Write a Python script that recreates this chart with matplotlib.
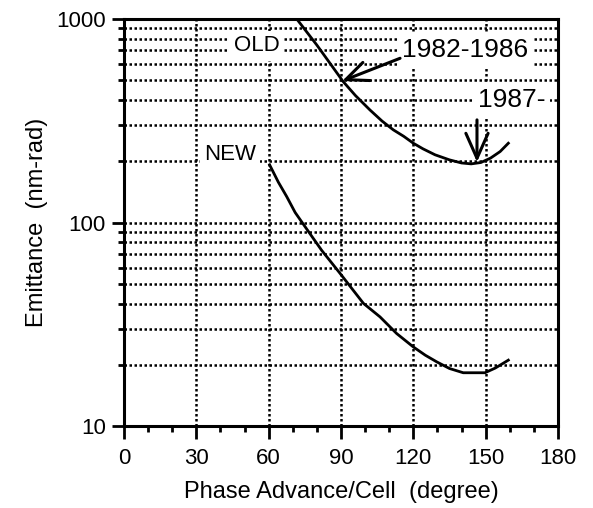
import numpy as np
import matplotlib.pyplot as plt
from matplotlib.ticker import FixedLocator, NullFormatter, LogLocator

plt.rcParams["font.family"] = ["Liberation Sans", "DejaVu Sans"]

# ===============================
# Data
# ===============================
old_phase = [71.6, 80, 90.9, 96, 102, 107, 111.7, 116, 120, 124, 129, 135, 140, 144, 148, 152, 156, 159.4]
old_emit = [1000, 743, 492, 420, 357, 315, 285, 265, 245, 230, 215, 203, 196, 194, 197, 207, 223, 245]

new_phase = [60.4, 64, 67.5, 71, 75.1, 82, 89.6, 99.3, 106.2, 113.1, 120, 125, 129.7, 135, 140.7, 149.7, 154, 159.4]
new_emit = [192, 158, 134, 112, 95.4, 73, 56.3, 40.1, 34.4, 28.5, 24.5, 22.3, 20.7, 19.2, 18.3, 18.3, 19.3, 21.1]

x_ticks = [0, 30, 60, 90, 120, 150, 180]
y_ticks = [10, 100, 1000]

fig = plt.figure(figsize=(5.93, 5.08), dpi=100)
ax = fig.add_axes([0.209, 0.161, 0.732, 0.802])

ax.set_yscale("log")
ax.set_xlim(0, 180)
ax.set_ylim(10, 1000)

# grid: dotted lines at every decade sub-tick and every 30 degrees
ax.xaxis.set_major_locator(FixedLocator(x_ticks))
ax.xaxis.set_minor_locator(FixedLocator(np.arange(0, 181, 10)))
ax.yaxis.set_major_locator(FixedLocator(y_ticks))
ax.yaxis.set_minor_locator(LogLocator(base=10, subs=np.arange(2, 10)))
ax.yaxis.set_minor_formatter(NullFormatter())
ax.set_yticklabels(["10", "100", "1000"])
ax.set_xticklabels([str(v) for v in x_ticks])

ax.grid(True, which="major", axis="x", color="black", linestyle=(0, (1, 1)), linewidth=1.8)
ax.grid(True, which="both", axis="y", color="black", linestyle=(0, (1, 1)), linewidth=1.8)
ax.set_axisbelow(True)

ax.tick_params(axis="both", which="major", direction="out", length=9, width=2,
               labelsize=16, colors="black")
ax.tick_params(axis="both", which="minor", direction="out", length=4, width=2)
ax.tick_params(axis="y", which="major", pad=4)
ax.tick_params(axis="x", which="major", pad=7)
for s in ax.spines.values():
    s.set_linewidth(2.2)

ax.plot(old_phase, old_emit, color="black", linewidth=2, zorder=3)
ax.plot(new_phase, new_emit, color="black", linewidth=2, zorder=3)

box = dict(facecolor="white", edgecolor="none", pad=3)
ax.text(55, 737, "OLD", fontsize=16, ha="center", va="center", bbox=box, zorder=4)
ax.text(44, 215, "NEW", fontsize=16, ha="center", va="center", bbox=box, zorder=4)
ax.text(141.5, 700, "1982-1986", fontsize=19, ha="center", va="center", bbox=box, zorder=4)
ax.text(161, 398, "1987-", fontsize=19, ha="center", va="center", bbox=box, zorder=4)

# hand-drawn style arrows
ax.annotate("", xy=(90.5, 495), xytext=(114.5, 640),
            arrowprops=dict(arrowstyle="->,head_length=0.8,head_width=0.35", lw=2.2,
                            color="black", mutation_scale=20, shrinkA=0, shrinkB=0),
            zorder=5)
ax.annotate("", xy=(146.4, 198), xytext=(146.4, 319),
            arrowprops=dict(arrowstyle="->,head_length=0.9,head_width=0.4", lw=2.2,
                            color="black", mutation_scale=20, shrinkA=0, shrinkB=0),
            zorder=5)

ax.set_xlabel("Phase Advance/Cell  (degree)", fontsize=17, labelpad=8)
ax.set_ylabel("Emittance  (nm-rad)", fontsize=17, labelpad=6)

fig.savefig("out.png", dpi=100)
